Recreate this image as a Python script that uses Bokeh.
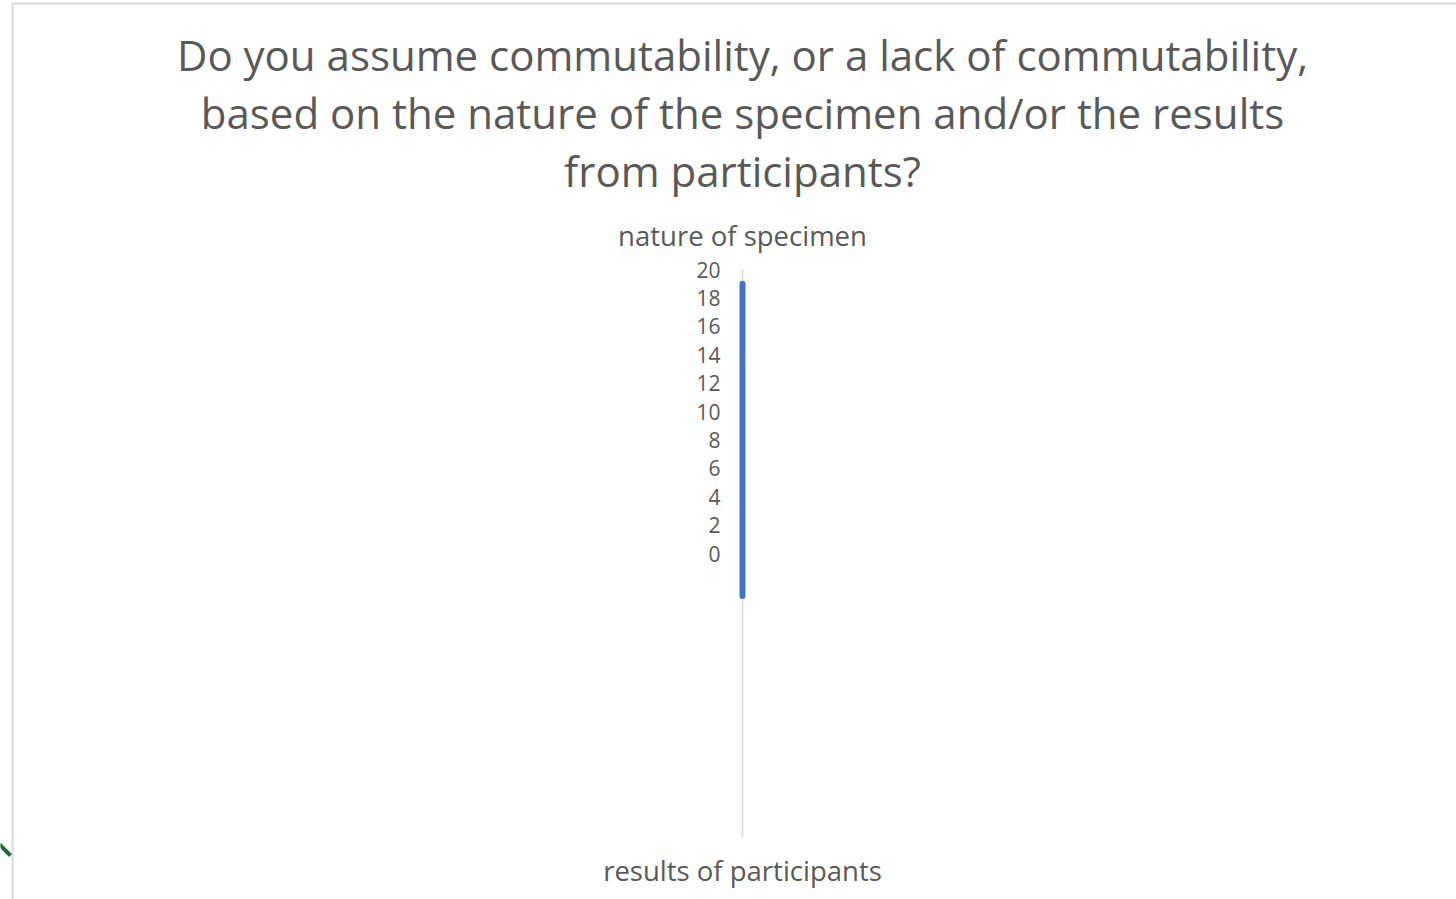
from bokeh.plotting import figure
from bokeh.models import Range1d, ColumnDataSource
from bokeh.core.properties import value
from bokeh.embed import file_html
from bokeh.resources import INLINE
import math

title_lines = [
    "Do you assume commutability, or a lack of commutability,",
    "based on the nature of the specimen and/or the results",
    "from participants?",
]
categories = ["nature of specimen", "results of participants"]
values = [19, 3]
ticks = [0, 2, 4, 6, 8, 10, 12, 14, 16, 18, 20]
r_max = 20

W, H = 1456, 899
cx_px, cy_px = 742, 553
scale = 14.2  # px per unit

def px_x(x):
    return (x - cx_px) / scale

def px_y(y):
    return (cy_px - y) / scale

p = figure(width=W, height=H, output_backend="svg", toolbar_location=None,
           x_range=Range1d(px_x(0), px_x(W)), y_range=Range1d(px_y(H), px_y(0)),
           min_border=0)
p.axis.visible = False
p.grid.visible = False
p.outline_line_color = None
p.background_fill_color = "white"
p.border_fill_color = "white"

# chart border
p.line([px_x(12), px_x(12), px_x(W + 5)], [px_y(H + 5), px_y(3), px_y(3)],
       line_color="#d9d9d9", line_width=2)
# stray green stroke at lower-left (from neighbouring chart)
p.line([px_x(-2), px_x(10)], [px_y(843), px_y(855)], line_color="#1e6b3a", line_width=4)

# category angles: first at top, going clockwise
n = len(categories)
angles = [math.pi / 2 - 2 * math.pi * i / n for i in range(n)]

# spokes / grid
for a in angles:
    p.line([0, r_max * math.cos(a)], [0, r_max * math.sin(a)], line_color="#d9d9d9", line_width=1.5)

# data series (closed)
xs = [v * math.cos(a) for v, a in zip(values, angles)]
ys = [v * math.sin(a) for v, a in zip(values, angles)]
xs.append(xs[0]); ys.append(ys[0])
p.line(xs, ys, line_color="#4472C4", line_width=6, line_cap="round", line_join="round")

# tick labels
src = ColumnDataSource(dict(x=[0] * len(ticks), y=ticks, t=[str(t) for t in ticks]))
p.text(x="x", y="y", text="t", source=src, x_offset=-22, text_align="right",
       text_baseline="middle", text_font=value("Open Sans"), text_font_size="21px",
       text_color="#595959")

# category labels
lx = [r_max * math.cos(a) for a in angles]
ly = [r_max * math.sin(a) for a in angles]
p.text(x=[lx[0]], y=[ly[0]], text=[categories[0]], y_offset=-34, text_align="center",
       text_baseline="middle", text_font=value("Open Sans"), text_font_size="27.5px",
       text_color="#595959")
p.text(x=[lx[1]], y=[ly[1]], text=[categories[1]], y_offset=33, text_align="center",
       text_baseline="middle", text_font=value("Open Sans"), text_font_size="27.5px",
       text_color="#595959")

# title
for i, line in enumerate(title_lines):
    p.text(x=[0], y=[px_y(54 + 58 * i)], text=[line], text_align="center",
           text_baseline="middle", text_font=value("Open Sans"), text_font_size="42px",
           text_color="#595959")

open("out.html", "w").write(file_html(p, INLINE))
